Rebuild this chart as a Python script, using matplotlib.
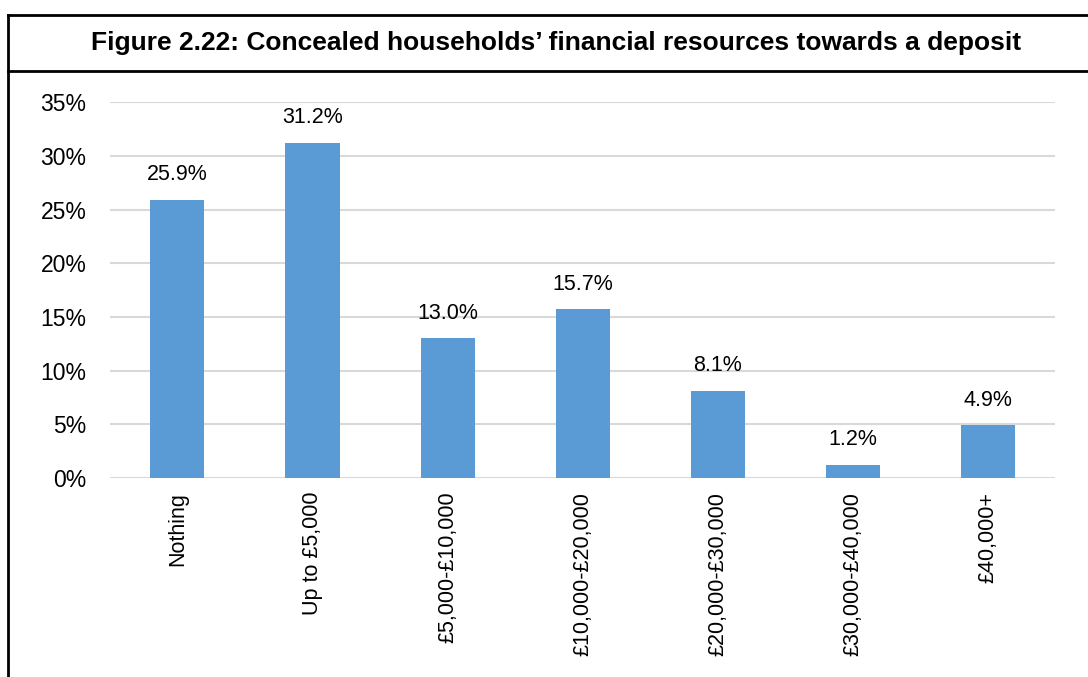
import matplotlib
matplotlib.use("Agg")
import matplotlib.pyplot as plt
from matplotlib.lines import Line2D

plt.rcParams['font.family'] = ['Liberation Sans', 'DejaVu Sans']

# Savings available for a deposit, share of concealed households
categories = ['Nothing', 'Up to £5,000', '£5,000-£10,000', '£10,000-£20,000',
              '£20,000-£30,000', '£30,000-£40,000', '£40,000+']
shares = [25.9, 31.2, 13.0, 15.7, 8.1, 1.2, 4.9]
yticks = [0, 5, 10, 15, 20, 25, 30, 35]

title = 'Figure 2.22: Concealed households’ financial resources towards a deposit'

fig = plt.figure(figsize=(10.88, 6.77), dpi=100)
ax = fig.add_axes([0.101, 0.294, 0.869, 0.555])

x = range(len(categories))
bars = ax.bar(x, shares, width=0.4, color='#5B9BD5', zorder=3)

for b, v in zip(bars, shares):
    ax.annotate(f'{v:.1f}%', (b.get_x() + b.get_width() / 2, v),
                xytext=(0, 10.5), textcoords='offset points',
                ha='center', va='bottom', fontsize=15.5)

ax.set_xlim(-0.5, len(categories) - 0.5)
ax.set_ylim(0, 35)
ax.set_yticks(yticks)
ax.set_yticklabels([f'{t}%' for t in yticks], fontsize=16.5)
ax.set_xticks(list(x))
ax.set_xticklabels(categories, rotation=90, fontsize=15.5)
ax.tick_params(axis='both', length=0)
ax.tick_params(axis='x', pad=10)
ax.tick_params(axis='y', pad=17)
ax.grid(axis='y', color='#D9D9D9', linewidth=1.5, zorder=0)
for s in ax.spines.values():
    s.set_visible(False)

# frame around the figure: top rule, header rule and left edge
fig.lines.append(Line2D([0.007, 1.0], [1 - 15 / 677, 1 - 15 / 677],
                        transform=fig.transFigure, color='black', linewidth=2))
fig.lines.append(Line2D([0.007, 1.0], [1 - 71 / 677, 1 - 71 / 677],
                        transform=fig.transFigure, color='black', linewidth=2))
fig.lines.append(Line2D([0.007, 0.007], [0, 1 - 15 / 677],
                        transform=fig.transFigure, color='black', linewidth=2))

fig.text(0.511, 1 - 43 / 677, title, ha='center', va='center',
         fontsize=19, fontweight='bold')

fig.savefig('out.png', dpi=100)
